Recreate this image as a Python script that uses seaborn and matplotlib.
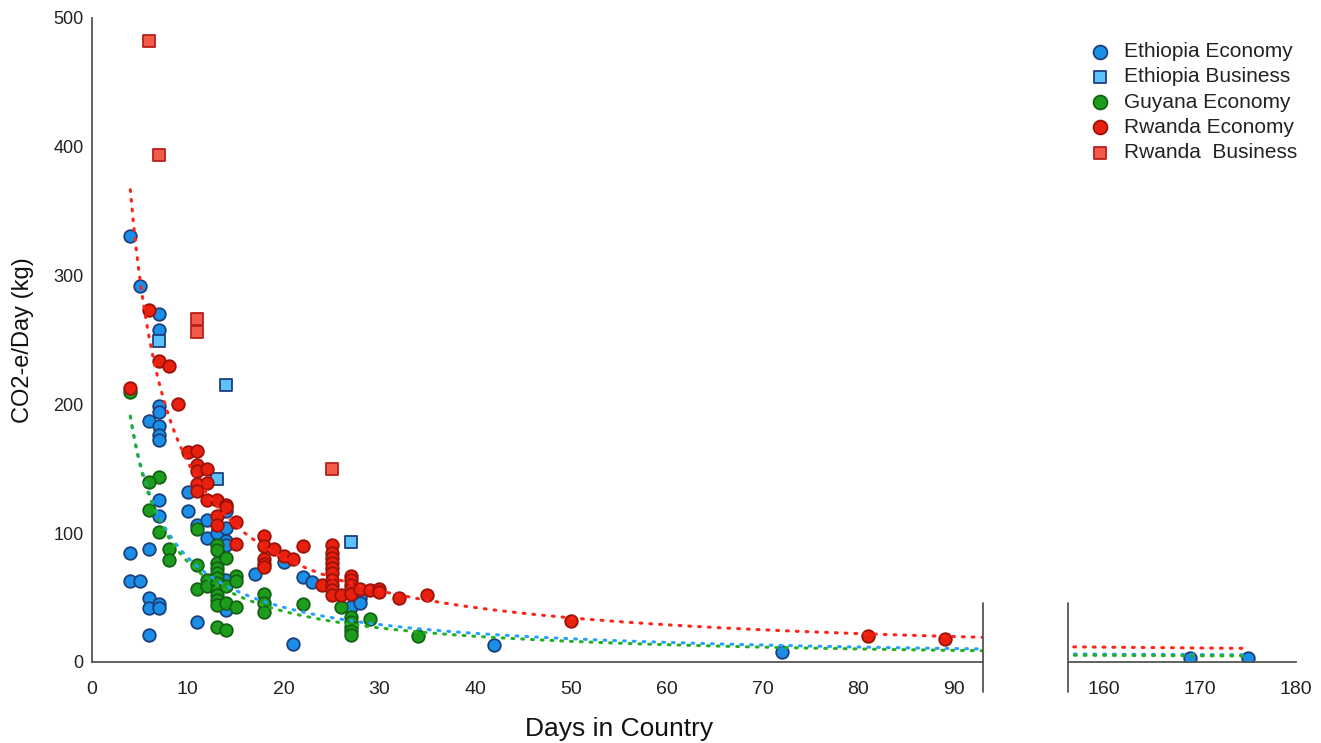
import numpy as np
import pandas as pd
import matplotlib
matplotlib.use("Agg")
import matplotlib.pyplot as plt
import seaborn as sns

# values (days in country, kg CO2-e per day)
eth_eco_days = [4, 5, 7, 7, 7, 7, 6, 7, 7, 7, 10, 7, 10, 7, 11, 12, 12, 13, 14, 14, 14, 14,
                4, 6, 4, 5, 6, 6, 7, 7, 11, 6, 14, 14, 17, 20, 22, 23, 27, 28, 28, 21, 42, 72, 169, 175]
eth_eco_co2 = [331, 292, 270, 258, 199, 194, 187, 183, 176, 172, 132, 126, 117, 113, 106, 110, 96, 100, 117, 104, 94, 91,
               85, 88, 63, 63, 50, 42, 45, 42, 31, 21, 64, 40, 68, 78, 66, 62, 43, 50, 46, 14, 13, 8, 3, 3]

eth_bus_days = [7, 14, 13, 27]
eth_bus_co2 = [249, 215, 142, 93]

guy_eco_days = [4, 7, 6, 6, 7, 8, 8, 11, 11, 11, 12, 12,
                13, 13, 13, 13, 13, 13, 13, 13, 13, 13, 13, 13,
                14, 14, 14, 14, 15, 15, 15, 18, 18, 18,
                22, 26, 27, 27, 27, 27, 27, 29, 34]
guy_eco_co2 = [210, 144, 140, 118, 101, 88, 79, 103, 75, 57, 64, 59,
               91, 87, 77, 73, 69, 65, 61, 56, 52, 48, 44, 27,
               81, 59, 46, 25, 67, 63, 43, 53, 46, 39,
               45, 43, 35, 31, 27, 24, 21, 33, 20]

rwa_eco_days = [6, 7, 8, 4, 9, 10, 11, 11, 11, 12, 11, 11, 12, 12, 13, 14, 14, 13, 13, 15, 15,
                18, 18, 18, 18, 18, 19, 20, 21, 22, 24,
                25, 25, 25, 25, 25, 25, 25, 25, 25, 25, 26,
                27, 27, 27, 27, 27, 28, 29, 30, 30, 32, 35, 50, 81, 89]
rwa_eco_co2 = [273, 234, 230, 213, 200, 163, 164, 153, 148, 150, 138, 133, 139, 126, 126, 122, 120, 113, 106, 109, 92,
               98, 90, 80, 76, 74, 88, 82, 80, 90, 60,
               91, 85, 81, 77, 73, 69, 64, 60, 56, 52, 52,
               67, 64, 60, 57, 53, 57, 56, 57, 54, 50, 52, 32, 20, 18]

rwa_bus_days = [6, 7, 11, 11, 25]
rwa_bus_co2 = [482, 394, 266, 256, 150]

series_names = ["Ethiopia Economy", "Ethiopia Business", "Guyana Economy",
                "Rwanda Economy", "Rwanda  Business"]
series_data = [(eth_eco_days, eth_eco_co2), (eth_bus_days, eth_bus_co2),
               (guy_eco_days, guy_eco_co2), (rwa_eco_days, rwa_eco_co2),
               (rwa_bus_days, rwa_bus_co2)]
trend_series = ["Ethiopia Economy", "Guyana Economy", "Rwanda Economy"]

frames = []
for name, (d, v) in zip(series_names, series_data):
    frames.append(pd.DataFrame({"days": d, "co2": v, "series": name}))
df = pd.concat(frames, ignore_index=True)

marker_style = {
    "Ethiopia Economy": dict(marker="o", color="#1a8fe8", edgecolor="#1c3f7c", s=82),
    "Ethiopia Business": dict(marker="s", color="#5cc2f7", edgecolor="#1c3f7c", s=66),
    "Guyana Economy": dict(marker="o", color="#1c9e1c", edgecolor="#146014", s=82),
    "Rwanda Economy": dict(marker="o", color="#e8200e", edgecolor="#9c1208", s=82),
    "Rwanda  Business": dict(marker="s", color="#f25a4a", edgecolor="#b8201a", s=66),
}
trend_color = {"Ethiopia Economy": "#25a2ff", "Guyana Economy": "#22b022",
               "Rwanda Economy": "#ff2418"}

sns.set_theme(style="white")
plt.rcParams["font.family"] = ["Liberation Sans", "DejaVu Sans"]

fig = plt.figure(figsize=(13.21, 7.43), dpi=100)
H = 743.0
W = 1321.0
bottom = 1 - 662 / H
height = (662 - 18) / H
ax1 = fig.add_axes([92 / W, bottom, 891 / W, height])
ax2 = fig.add_axes([1068 / W, bottom, 228 / W, height])

for ax, show in [(ax1, True), (ax2, False)]:
    for name in series_names:
        st = marker_style[name]
        sns.scatterplot(data=df[df["series"] == name], x="days", y="co2", ax=ax,
                        marker=st["marker"], color=st["color"], edgecolor=st["edgecolor"],
                        s=st["s"], linewidth=1.3, zorder=2,
                        label=name if show else None, legend=show)

# power trendlines, fitted in log-log space
lo, hi = df["days"].min(), df["days"].max()
xs = np.linspace(lo, hi, 600)
for name in trend_series:
    sub = df[df["series"] == name]
    b, a = np.polyfit(np.log(sub["days"]), np.log(sub["co2"]), 1)
    ys = np.exp(a) * xs ** b
    for ax in (ax1, ax2):
        ax.plot(xs, ys, color=trend_color[name], lw=2.2, linestyle=(0, (0.6, 2.6)),
                dash_capstyle="round", zorder=3)

ax1.set_xlim(0, 93)
ax2.set_xlim(156.3, 180)
for ax in (ax1, ax2):
    ax.set_ylim(0, 500)
    ax.set_facecolor("none")
    for sp in ax.spines.values():
        sp.set_visible(False)
    ax.spines["bottom"].set_visible(True)
    ax.spines["bottom"].set_color("#555555")
    ax.spines["bottom"].set_linewidth(1.3)
    ax.tick_params(axis="both", length=0, labelsize=14, colors="#222222")
    ax.tick_params(axis="x", pad=14)
    ax.set_xlabel("")
    ax.set_ylabel("")

ax1.spines["left"].set_visible(True)
ax1.spines["left"].set_color("#555555")
ax1.spines["left"].set_linewidth(1.3)
ax1.tick_params(axis="y", pad=6, labelsize=13)
ax1.set_xticks(range(0, 91, 10))
ax1.set_yticks(range(0, 501, 100))
ax2.set_xticks([160, 170, 180])
ax2.set_yticks([])

# axis break marks
for ax, xpos in [(ax1, 1.0), (ax2, 0.0)]:
    ax.plot([xpos, xpos], [-0.047, 0.092], transform=ax.transAxes, color="#555555",
            lw=1.3, clip_on=False, zorder=5)

ax1.set_xlabel("Days in Country", fontsize=19, color="#111111")
ax1.xaxis.set_label_coords((619 - 92) / 891, (662 - 717) / 644)
ax1.set_ylabel("CO2-e/Day (kg)", fontsize=17, color="#111111")
ax1.yaxis.set_label_coords((34 - 92) / 891, 0.5)

handles, labels = ax1.get_legend_handles_labels()
ax1.get_legend().remove()
leg = fig.legend(handles, labels, loc="upper left", bbox_to_anchor=(1079 / W, 1 - 42 / H),
                 frameon=False, fontsize=15, handletextpad=0.15, labelspacing=0.3,
                 borderaxespad=0, borderpad=0, markerscale=1.1)
for t in leg.get_texts():
    t.set_color("#222222")

fig.savefig("out.png", dpi=100, facecolor="white")
plt.close()
